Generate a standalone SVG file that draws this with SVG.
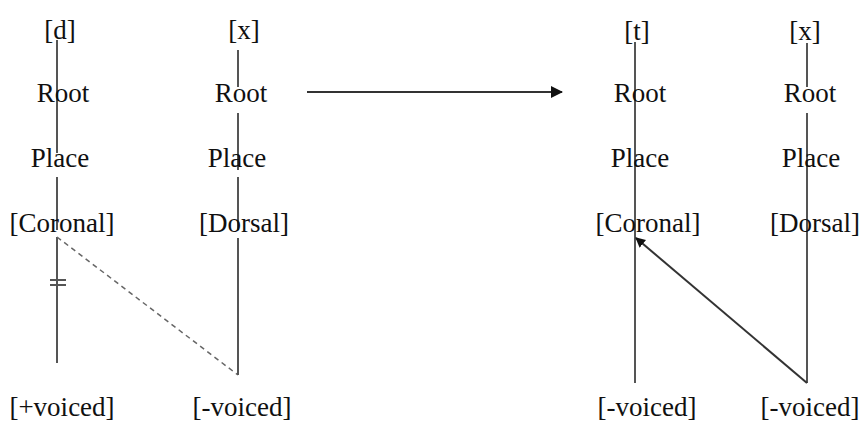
<svg xmlns="http://www.w3.org/2000/svg" width="863" height="423" viewBox="0 0 863 423">
  <style>
    text { font-family: "Liberation Serif", "Times New Roman", serif; font-size: 27px; fill: #101010; text-anchor: middle; }
    .edge { stroke: #555555; stroke-width: 2; fill: none; }
    .dash { stroke: #666666; stroke-width: 1.5; stroke-dasharray: 5 4; fill: none; }
    .arr { stroke: #333333; stroke-width: 2; fill: none; }
  </style>
  <defs>
    <marker id="head" markerWidth="10" markerHeight="10" refX="9" refY="5" orient="auto" markerUnits="userSpaceOnUse">
      <path d="M0,0 L10,5 L0,10 z" fill="#111"/>
    </marker>
    <marker id="head2" markerWidth="12" markerHeight="12" refX="11" refY="6" orient="auto" markerUnits="userSpaceOnUse">
      <path d="M0,0 L12,6 L0,12 z" fill="#111"/>
    </marker>
  </defs>
  <rect width="863" height="423" fill="#ffffff"/>

  <!-- connectors -->
  <g id="connectors">
    <!-- tree 1: [d] -->
    <line class="edge" x1="57" y1="40" x2="57" y2="153"/>
    <line class="edge" x1="57" y1="177" x2="57" y2="230"/>
    <line class="edge" x1="57" y1="237" x2="57" y2="363"/>
    <line class="edge" x1="50" y1="280" x2="66" y2="280"/>
    <line class="edge" x1="50" y1="285" x2="66" y2="285"/>
    <line class="dash" x1="57" y1="237" x2="238" y2="375"/>
    <!-- tree 2: [x] -->
    <line class="edge" x1="238" y1="50" x2="238" y2="87"/>
    <line class="edge" x1="238" y1="113" x2="238" y2="170"/>
    <line class="edge" x1="238" y1="177" x2="238" y2="230"/>
    <line class="edge" x1="238" y1="238" x2="238" y2="375"/>
    <!-- transition arrow -->
    <line class="arr" x1="307" y1="92" x2="562" y2="92" marker-end="url(#head2)"/>
    <!-- tree 3: [t] -->
    <line class="edge" x1="635" y1="42" x2="635" y2="383"/>
    <!-- tree 4: [x] -->
    <line class="edge" x1="807" y1="43" x2="807" y2="87"/>
    <line class="edge" x1="807" y1="113" x2="807" y2="383"/>
    <line class="arr" x1="807" y1="383" x2="636" y2="238" marker-end="url(#head)"/>
  </g>

  <!-- tree 1 -->
  <g id="d-seg"><text x="60" y="39">[d]</text></g>
  <g id="d-root"><text x="63" y="102">Root</text></g>
  <g id="d-place"><text x="60" y="167">Place</text></g>
  <g id="d-coronal"><text x="62" y="232">[Coronal]</text></g>
  <g id="d-voice"><text x="62" y="416">[+voiced]</text></g>

  <!-- tree 2 -->
  <g id="x1-seg"><text x="244" y="39">[x]</text></g>
  <g id="x1-root"><text x="241" y="102">Root</text></g>
  <g id="x1-place"><text x="237" y="167">Place</text></g>
  <g id="x1-dorsal"><text x="244" y="232">[Dorsal]</text></g>
  <g id="x1-voice"><text x="242" y="416">[-voiced]</text></g>

  <!-- tree 3 -->
  <g id="t-seg"><text x="637" y="40">[t]</text></g>
  <g id="t-root"><text x="640" y="102">Root</text></g>
  <g id="t-place"><text x="640" y="167">Place</text></g>
  <g id="t-coronal"><text x="648" y="232">[Coronal]</text></g>
  <g id="t-voice"><text x="647" y="416">[-voiced]</text></g>

  <!-- tree 4 -->
  <g id="x2-seg"><text x="805" y="40">[x]</text></g>
  <g id="x2-root"><text x="810" y="102">Root</text></g>
  <g id="x2-place"><text x="811" y="167">Place</text></g>
  <g id="x2-dorsal"><text x="815" y="232">[Dorsal]</text></g>
  <g id="x2-voice"><text x="810" y="416">[-voiced]</text></g>
</svg>
